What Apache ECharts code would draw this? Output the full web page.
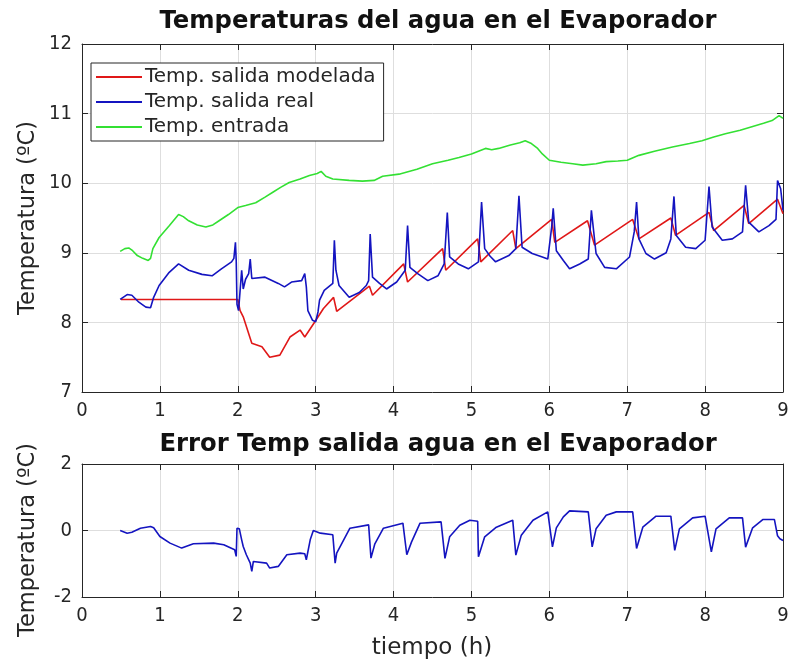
<!DOCTYPE html>
<html>
<head>
<meta charset="utf-8">
<script src="https://cdn.jsdelivr.net/npm/echarts@6/dist/echarts.min.js"></script>
<style>html,body{margin:0;padding:0;background:#fff}#c{width:793px;height:663px}</style>
</head>
<body>
<div id="c"></div>
<script>
const xTicks = [0,1,2,3,4,5,6,7,8,9];
const titleTop = 'Temperaturas del agua en el Evaporador';
const titleBottom = 'Error Temp salida agua en el Evaporador';
const legendNames = ['Temp. salida modelada','Temp. salida real','Temp. entrada'];

const modelada = [[0.5,8.33],[2.0,8.33],[2.03,8.17],[2.07,8.08],[2.18,7.70],[2.31,7.65],[2.41,7.50],[2.54,7.53],[2.67,7.79],[2.80,7.89],[2.86,7.79],[2.99,8.01],[3.10,8.20],[3.23,8.36],[3.27,8.16],[3.69,8.52],[3.73,8.39],[4.13,8.84],[4.18,8.58],[4.63,9.06],[4.67,8.75],[5.08,9.20],[5.12,8.87],[5.53,9.32],[5.57,9.06],[6.03,9.48],[6.07,9.15],[6.49,9.46],[6.58,9.11],[7.07,9.48],[7.15,9.20],[7.56,9.50],[7.62,9.25],[8.05,9.58],[8.11,9.32],[8.50,9.68],[8.56,9.42],[8.93,9.77],[9.0,9.56]];

const real = [[0.49,8.33],[0.58,8.40],[0.64,8.39],[0.73,8.29],[0.82,8.22],[0.88,8.21],[0.92,8.36],[0.99,8.53],[1.12,8.72],[1.24,8.84],[1.37,8.75],[1.54,8.69],[1.67,8.67],[1.79,8.77],[1.92,8.87],[1.95,8.92],[1.97,9.15],[1.98,8.89],[1.99,8.26],[2.01,8.17],[2.03,8.46],[2.05,8.75],[2.07,8.48],[2.10,8.62],[2.14,8.70],[2.16,8.91],[2.18,8.63],[2.35,8.65],[2.52,8.56],[2.60,8.51],[2.69,8.58],[2.82,8.60],[2.86,8.70],[2.88,8.51],[2.90,8.17],[2.96,8.03],[3.00,8.01],[3.03,8.15],[3.05,8.32],[3.11,8.46],[3.22,8.56],[3.24,9.18],[3.26,8.75],[3.30,8.53],[3.43,8.36],[3.56,8.43],[3.65,8.53],[3.68,8.60],[3.70,9.27],[3.73,8.65],[3.82,8.56],[3.91,8.48],[4.04,8.58],[4.15,8.75],[4.18,9.39],[4.21,8.79],[4.31,8.70],[4.44,8.60],[4.57,8.67],[4.65,8.84],[4.69,9.58],[4.72,8.94],[4.83,8.84],[4.96,8.77],[5.09,8.87],[5.13,9.73],[5.17,9.06],[5.24,8.95],[5.31,8.87],[5.48,8.96],[5.57,9.06],[5.61,9.82],[5.65,9.08],[5.78,8.99],[5.91,8.94],[5.98,8.91],[6.03,9.37],[6.05,9.64],[6.09,9.03],[6.18,8.89],[6.26,8.77],[6.39,8.84],[6.50,8.91],[6.54,9.61],[6.60,8.99],[6.71,8.79],[6.86,8.77],[7.03,8.94],[7.09,9.30],[7.12,9.73],[7.15,9.20],[7.24,8.99],[7.35,8.91],[7.50,9.00],[7.56,9.20],[7.60,9.81],[7.63,9.25],[7.75,9.08],[7.88,9.06],[8.00,9.18],[8.05,9.95],[8.09,9.37],[8.22,9.18],[8.35,9.20],[8.48,9.30],[8.52,9.97],[8.56,9.44],[8.69,9.30],[8.82,9.39],[8.91,9.48],[8.93,10.04],[8.97,9.92],[9.0,9.61]];

const entrada = [[0.49,9.02],[0.55,9.06],[0.6,9.07],[0.65,9.03],[0.71,8.96],[0.78,8.92],[0.85,8.89],[0.88,8.92],[0.91,9.06],[0.99,9.22],[1.12,9.39],[1.24,9.55],[1.30,9.52],[1.37,9.46],[1.48,9.40],[1.59,9.37],[1.68,9.40],[1.76,9.46],[1.88,9.55],[2.0,9.65],[2.1,9.68],[2.23,9.72],[2.35,9.80],[2.45,9.87],[2.55,9.94],[2.66,10.01],[2.80,10.06],[2.92,10.11],[3.02,10.14],[3.07,10.17],[3.13,10.10],[3.22,10.06],[3.43,10.04],[3.60,10.03],[3.75,10.04],[3.86,10.10],[4.07,10.13],[4.30,10.20],[4.50,10.28],[4.70,10.33],[4.84,10.37],[5.00,10.42],[5.18,10.50],[5.26,10.48],[5.35,10.50],[5.50,10.55],[5.62,10.58],[5.69,10.61],[5.77,10.57],[5.85,10.50],[5.91,10.42],[6.0,10.33],[6.15,10.30],[6.30,10.28],[6.43,10.26],[6.6,10.28],[6.73,10.31],[6.88,10.32],[7.0,10.33],[7.15,10.40],[7.35,10.46],[7.58,10.52],[7.80,10.57],[7.96,10.61],[8.10,10.66],[8.26,10.71],[8.45,10.76],[8.6,10.81],[8.75,10.86],[8.86,10.90],[8.95,10.97],[9.0,10.93]];

const errorT = [[0.49,0.0],[0.58,-0.08],[0.64,-0.05],[0.75,0.07],[0.88,0.12],[0.92,0.08],[1.0,-0.18],[1.13,-0.38],[1.28,-0.53],[1.43,-0.40],[1.69,-0.38],[1.82,-0.43],[1.96,-0.58],[1.98,-0.78],[1.99,0.07],[2.02,0.05],[2.05,-0.28],[2.07,-0.48],[2.11,-0.73],[2.16,-0.98],[2.18,-1.23],[2.20,-0.93],[2.37,-0.98],[2.41,-1.13],[2.52,-1.08],[2.63,-0.73],[2.80,-0.68],[2.86,-0.70],[2.88,-0.88],[2.93,-0.28],[2.97,0.0],[3.06,-0.08],[3.22,-0.13],[3.25,-0.98],[3.27,-0.68],[3.36,-0.28],[3.44,0.07],[3.68,0.17],[3.71,-0.83],[3.76,-0.40],[3.87,0.07],[4.12,0.22],[4.17,-0.73],[4.23,-0.35],[4.34,0.22],[4.61,0.26],[4.66,-0.84],[4.72,-0.19],[4.85,0.16],[4.98,0.31],[5.08,0.28],[5.09,-0.79],[5.17,-0.19],[5.32,0.10],[5.53,0.31],[5.57,-0.74],[5.64,-0.14],[5.79,0.31],[5.98,0.56],[6.04,-0.49],[6.09,0.08],[6.18,0.41],[6.26,0.59],[6.50,0.56],[6.55,-0.49],[6.60,0.05],[6.73,0.46],[6.86,0.56],[7.07,0.56],[7.12,-0.54],[7.20,0.10],[7.37,0.43],[7.56,0.43],[7.61,-0.60],[7.67,0.05],[7.84,0.38],[8.00,0.43],[8.08,-0.64],[8.14,0.05],[8.31,0.38],[8.48,0.38],[8.52,-0.50],[8.61,0.08],[8.74,0.33],[8.89,0.33],[8.93,-0.16],[8.96,-0.25],[9.0,-0.30]];

const dark = '#262626';
const gridC = '#dedede';
const tickFont = {fontFamily:'DejaVu Sans Condensed, DejaVu Sans', fontSize:20, color:dark};

function xAx(gi, showLabels, pos){
  return {type:'value', gridIndex:gi, min:0, max:9, interval:1, position:pos,
    axisLine:{show:true, onZero:false, lineStyle:{color:dark}},
    axisTick:{show:true, inside:true, length:6, lineStyle:{color:dark}},
    axisLabel:Object.assign({show:showLabels, margin:9}, tickFont),
    splitLine:{show:showLabels, lineStyle:{color:gridC}}};
}
function yAx(gi, mn, mx, iv, showLabels, pos){
  return {type:'value', gridIndex:gi, min:mn, max:mx, interval:iv, position:pos,
    axisLine:{show:true, onZero:false, lineStyle:{color:dark}},
    axisTick:{show:true, inside:true, length:6, lineStyle:{color:dark}},
    axisLabel:Object.assign({show:showLabels, margin:10}, tickFont),
    splitLine:{show:showLabels, lineStyle:{color:gridC}}};
}

const chart = echarts.init(document.getElementById('c'));
chart.setOption({
  animation:false,
  backgroundColor:'#fff',
  title:[
    {text:titleTop, left:433, top:5, textAlign:'center', textStyle:{fontFamily:'DejaVu Sans', fontWeight:'bold', fontSize:24.3, color:'#111'}},
    {text:titleBottom, left:433, top:428, textAlign:'center', textStyle:{fontFamily:'DejaVu Sans', fontWeight:'bold', fontSize:24.3, color:'#111'}}
  ],
  legend:{
    data:legendNames, orient:'vertical', left:91, top:63, padding:[4,8,4,5], itemGap:5,
    itemWidth:46, itemHeight:2, icon:'rect',
    backgroundColor:'#fff', borderColor:dark, borderWidth:1, borderRadius:0,
    textStyle:{fontFamily:'DejaVu Sans', fontSize:20, color:dark, padding:[0,0,0,-2]}
  },
  grid:[
    {left:82, right:10, top:44, height:348, show:false},
    {left:82, right:10, top:464, height:133, show:false}
  ],
  xAxis:[xAx(0,true,'bottom'), xAx(0,false,'top'), xAx(1,true,'bottom'), xAx(1,false,'top')],
  yAxis:[yAx(0,7,12,1,true,'left'), yAx(0,7,12,1,false,'right'), yAx(1,-2,2,2,true,'left'), yAx(1,-2,2,2,false,'right')],
  graphic:[
    {type:'text', style:{text:'Temperatura (ºC)', fontFamily:'DejaVu Sans', fontSize:22.5, fill:dark, textAlign:'center', textVerticalAlign:'middle'}, x:28, y:218, rotation:Math.PI/2},
    {type:'text', style:{text:'Temperatura (ºC)', fontFamily:'DejaVu Sans', fontSize:22.5, fill:dark, textAlign:'center', textVerticalAlign:'middle'}, x:28, y:540, rotation:Math.PI/2},
    {type:'text', style:{text:'tiempo (h)', fontFamily:'DejaVu Sans', fontSize:23, fill:dark, textAlign:'center', textVerticalAlign:'middle'}, x:432, y:648}
  ],
  series:[
    {name:legendNames[0], type:'line', xAxisIndex:0, yAxisIndex:0, data:modelada, showSymbol:false, lineStyle:{color:'#e01818', width:1.6}, itemStyle:{color:'#e01818'}},
    {name:legendNames[1], type:'line', xAxisIndex:0, yAxisIndex:0, data:real, showSymbol:false, lineStyle:{color:'#1414c0', width:1.6}, itemStyle:{color:'#1414c0'}},
    {name:legendNames[2], type:'line', xAxisIndex:0, yAxisIndex:0, data:entrada, showSymbol:false, lineStyle:{color:'#33e033', width:1.6}, itemStyle:{color:'#33e033'}},
    {name:'Error', type:'line', xAxisIndex:2, yAxisIndex:2, data:errorT, showSymbol:false, lineStyle:{color:'#1414c0', width:1.6}, itemStyle:{color:'#1414c0'}}
  ]
});
</script>
</body>
</html>
